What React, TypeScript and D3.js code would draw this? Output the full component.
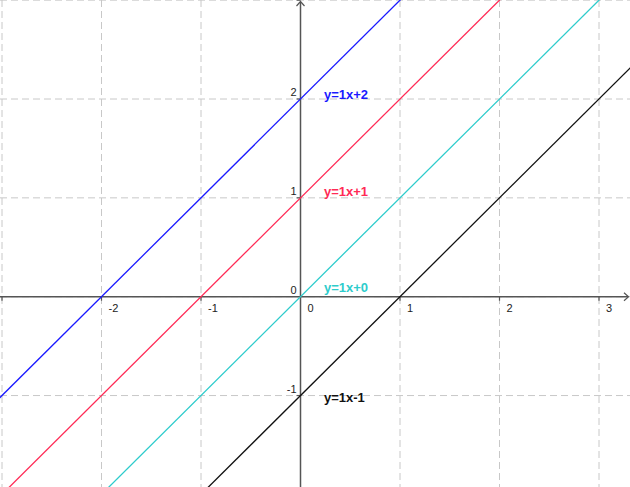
import React from "react";
import * as d3 from "d3";

const lineSlopes = [1, 1, 1, 1];
const lineIntercepts = [2, 1, 0, -1];
const lineLabels = ["y=1x+2", "y=1x+1", "y=1x+0", "y=1x-1"];
const xTicks = [-3, -2, -1, 0, 1, 2, 3];
const yTicks = [-1, 0, 1, 2, 3];
const xTickLabels = ["-2", "-1", "0", "1", "2", "3"];
const xTickLabelValues = [-2, -1, 0, 1, 2, 3];
const yTickLabelValues = [-1, 0, 1, 2];

const W = 630;
const H = 487;
const COLORS = ["#1a1aff", "#ff2a55", "#2ecccc", "#111111"];
const LABEL_DY = [0, -2, -5, 6];

export default function App() {
  const x = d3.scaleLinear().domain([-3, 3]).range([2, 599]);
  const y = d3.scaleLinear().domain([0, 2]).range([296.7, 99]);
  const x0 = x(0);
  const y0 = y(0);
  const xs = [-3.2, 3.4];
  const line = d3
    .line<number>()
    .x((d) => x(d))
    .y((d) => 0);

  const axisColor = "#555";
  const gridColor = "#c8c8c8";

  return (
    <svg
      width={W}
      height={H}
      style={{ position: "absolute", left: 0, top: 0, background: "#fff" }}
      fontFamily="'Liberation Sans', Arial, sans-serif"
    >
      <defs>
        <clipPath id="plot">
          <rect x={0} y={0} width={W} height={H} />
        </clipPath>
      </defs>
      {/* grid */}
      <g stroke={gridColor} strokeWidth={1} strokeDasharray="7,4">
        {xTicks.map((t) => (
          <line key={"gx" + t} x1={x(t)} x2={x(t)} y1={0} y2={H} />
        ))}
        {yTicks.map((t) => (
          <line key={"gy" + t} x1={0} x2={W} y1={y(t)} y2={y(t)} />
        ))}
      </g>
      {/* axes */}
      <g stroke={axisColor} strokeWidth={1.5} fill="none">
        <line x1={0} x2={628} y1={y0} y2={y0} />
        <line x1={x0} x2={x0} y1={H} y2={2} />
        <path d={`M${624},${y0 - 4} L${628.5},${y0} L${624},${y0 + 4}`} strokeWidth={1.2} />
        <path d={`M${x0 - 4},${6} L${x0},${1.5} L${x0 + 4},${6}`} strokeWidth={1.2} />
        {xTicks.map((t) =>
          t === 0 ? null : (
            <line key={"tx" + t} x1={x(t)} x2={x(t)} y1={y0} y2={y0 + 4} strokeWidth={1.2} />
          )
        )}
        {yTicks.map((t) =>
          t === 0 ? null : (
            <line key={"ty" + t} x1={x0 - 4} x2={x0} y1={y(t)} y2={y(t)} strokeWidth={1.2} />
          )
        )}
      </g>
      {/* tick labels */}
      <g fontSize={11} fill="#222">
        {xTickLabelValues.map((t, i) => (
          <text key={"lx" + t} x={x(t) + 7} y={y0 + 15}>
            {xTickLabels[i]}
          </text>
        ))}
        {yTickLabelValues.map((t) => (
          <text key={"ly" + t} x={x0 - 4} y={y(t) - 3} textAnchor="end">
            {String(t)}
          </text>
        ))}
      </g>
      {/* lines */}
      <g clipPath="url(#plot)">
        {lineSlopes.map((m, i) => {
          const b = lineIntercepts[i];
          const d = d3
            .line<number>()
            .x((v) => x(v))
            .y((v) => y(m * v + b))(xs);
          return (
            <path key={"l" + i} d={d || ""} stroke={COLORS[i]} strokeWidth={1.3} fill="none" />
          );
        })}
      </g>
      {/* line labels */}
      <g fontSize={13} fontWeight="bold">
        {lineLabels.map((lab, i) => (
          <text key={"t" + i} x={324} y={y(lineIntercepts[i]) + LABEL_DY[i]} fill={COLORS[i]}>
            {lab}
          </text>
        ))}
      </g>
    </svg>
  );
}
